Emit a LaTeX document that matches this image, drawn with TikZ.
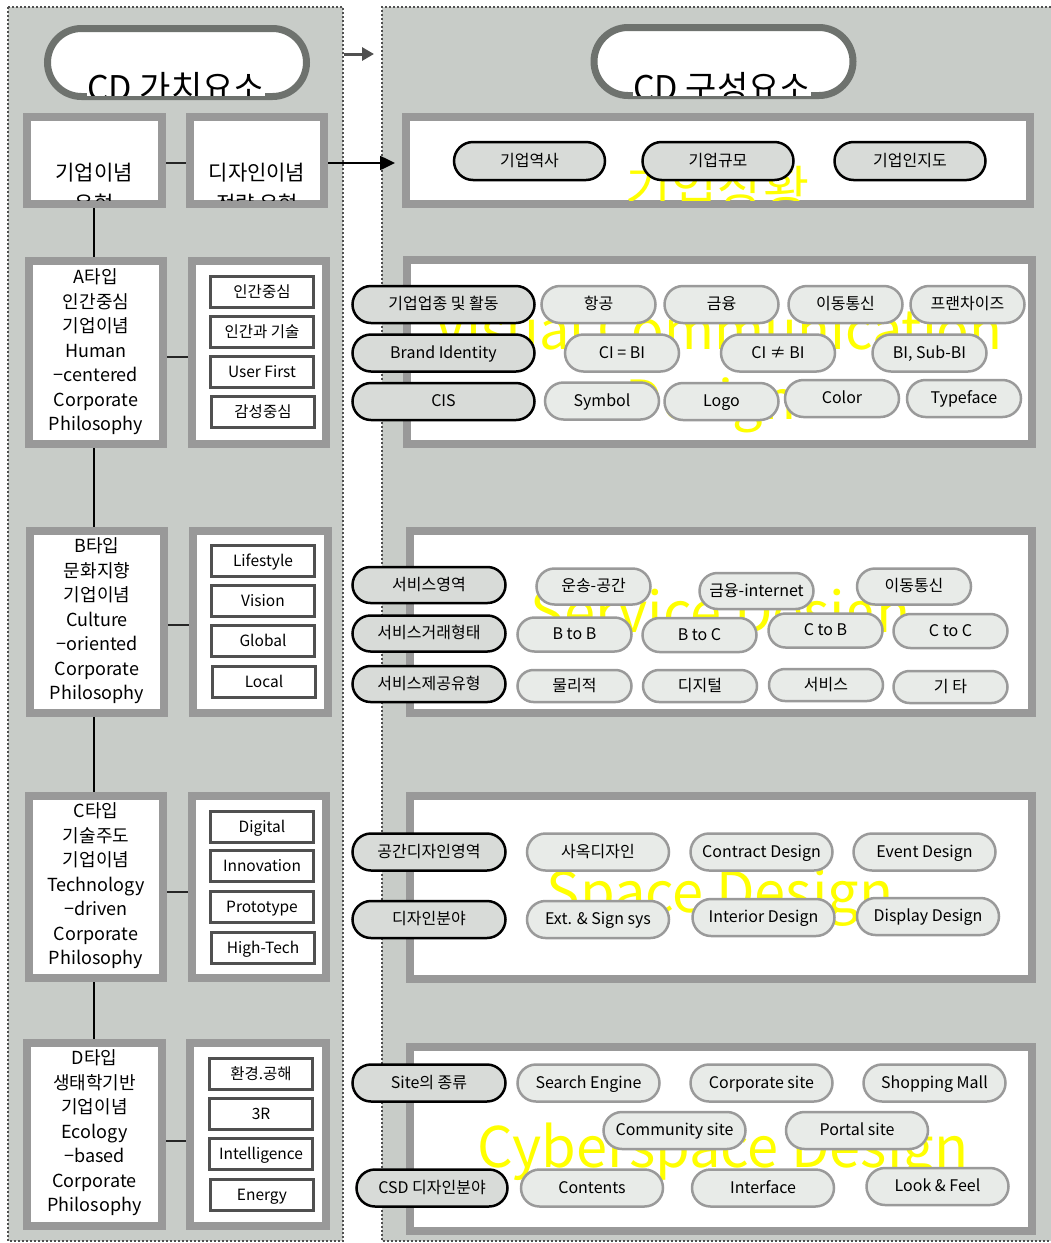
\documentclass[tikz,border=0pt]{standalone}
\usepackage{fontspec}
\setmainfont{Noto Sans CJK KR}
\usetikzlibrary{arrows.meta,shapes.misc}
\definecolor{panelbg}{HTML}{C8CCC8}
\definecolor{framegray}{HTML}{999999}
\definecolor{hdrc}{HTML}{6E726E}
\definecolor{catfill}{HTML}{D8DBD8}
\definecolor{itemfill}{HTML}{E8EBE8}
\definecolor{itemc}{HTML}{9A9A9A}
\definecolor{sboxc}{HTML}{505050}
\definecolor{dotc}{HTML}{505050}
\definecolor{ylw}{HTML}{FFFF00}
\newcommand\myfs[2]{\fontsize{#1pt}{#2pt}\selectfont}
\begin{document}
\begin{tikzpicture}[x=1pt,y=-1pt,
 dotline/.style={draw=dotc,line width=2pt,dash pattern=on 2pt off 2pt},
 frame/.style={draw=framegray,line width=8pt,fill=white,inner sep=0pt},
 hdrpill/.style={rounded rectangle,draw=hdrc,line width=7pt,fill=white,minimum width=259pt,minimum height=68pt,inner sep=0pt},
 hdrtext/.style={anchor=base,inner sep=0pt,fill=white,font=\myfs{34}{40}},
 pilltext/.style={inner sep=0pt,font=\myfs{16}{19},text height=12.5pt,text depth=2.5pt},
 catpill/.style={rounded rectangle,draw=black,line width=2.5pt,fill=catfill,pilltext},
 itempill/.style={rounded rectangle,draw=itemc,line width=2.5pt,fill=itemfill,pilltext},
 sbox/.style={draw=sboxc,line width=3pt,fill=white,minimum width=103pt,minimum height=31pt,pilltext,font=\myfs{15.5}{19}},
 ltext/.style={align=center,inner sep=0pt,font=\myfs{18}{24.5}},
 htext/.style={anchor=base,inner sep=0pt,font=\myfs{21}{26}},
 ylwtext/.style={anchor=base,inner sep=0pt,text=ylw,font=\myfs{56}{60}},
 conn/.style={draw=black!85,line width=2.5pt},
]
\useasboundingbox (0,0) rectangle (1051,1243);
% panels
\fill[panelbg] (8,7) rectangle (343,1241);
\draw[dotline] (8,7) rectangle (343,1241);
\fill[panelbg] (382,7) rectangle (1051,1241);
\draw[dotline] (1051,7) -- (382,7) -- (382,1241) -- (1051,1241);
% header arrow
\coordinate (ga1) at (344,54);
\coordinate (ga2) at (374,54);
\draw[draw=dotc,line width=3pt,-{Triangle[length=12pt,width=13pt]}] (ga1) -- (ga2);
% headers
\node[hdrpill] (hdrL) at (177,62.5) {};
\node[hdrpill] (hdrR) at (723.5,61.5) {};
\begin{scope}
\clip (0,0) rectangle (1051,95.5);
\node[hdrtext] (hdrLt) at (176,100) {CD 가치요소};
\node[hdrtext] (hdrRt) at (722,100) {CD 구성요소};
\end{scope}
% left top boxes
\node[frame,minimum width=135pt,minimum height=87pt] (b1) at (94.5,160.5) {};
\node[frame,minimum width=134pt,minimum height=87pt] (b2) at (257,160.5) {};
\begin{scope}
\clip ([shift={(8,8)}]b1.north west) rectangle ([shift={(-8,-8)}]b1.south east);
\node[htext] (b1a) at (94,180) {기업이념};
\node[htext] (b1b) at (94,211) {유형};
\end{scope}
\begin{scope}
\clip ([shift={(8,8)}]b2.north west) rectangle ([shift={(-8,-8)}]b2.south east);
\node[htext] (b2a) at (257,180) {디자인이념};
\node[htext] (b2b) at (257,211) {전략 유형};
\end{scope}
\coordinate (arrEnd) at (395,163);
\draw[conn] ([yshift=-2.5pt]b1.east) -- ([yshift=-2.5pt]b2.west);
\draw[draw=black,line width=2.5pt,-{Triangle[length=15pt,width=14pt]}] ([yshift=-2.5pt]b2.east) -- (arrEnd);
% left column boxes
\coordinate (vx) at (94,0);
\node[frame,minimum width=134pt,minimum height=183pt] (aL) at (96,352.5) {};
\node[frame,minimum width=134pt,minimum height=183pt] (aR) at (259,352.5) {};
\node[frame,minimum width=134pt,minimum height=182pt] (bL) at (97,622) {};
\node[frame,minimum width=135pt,minimum height=182pt] (bR) at (260.5,622) {};
\node[frame,minimum width=134pt,minimum height=182pt] (cL) at (96,887) {};
\node[frame,minimum width=134pt,minimum height=182pt] (cR) at (259,887) {};
\node[frame,minimum width=135pt,minimum height=183pt] (dL) at (94.5,1134.5) {};
\node[frame,minimum width=136pt,minimum height=183pt] (dR) at (258,1134.5) {};
\draw[draw=black,line width=2.5pt] (b1.south -| vx) -- (aL.north -| vx);
\draw[draw=black,line width=2.5pt] (aL.south -| vx) -- (bL.north -| vx);
\draw[draw=black,line width=2.5pt] (bL.south -| vx) -- (cL.north -| vx);
\draw[draw=black,line width=2.5pt] (cL.south -| vx) -- (dL.north -| vx);
\draw[conn] ([yshift=-4.5pt]aL.east) -- ([yshift=-4.5pt]aR.west);
\draw[conn] ([yshift=-3pt]bL.east) -- ([yshift=-3pt]bR.west);
\draw[conn] ([yshift=-5pt]cL.east) -- ([yshift=-5pt]cR.west);
\draw[conn] ([yshift=-6.5pt]dL.east) -- ([yshift=-6.5pt]dR.west);
\node[ltext] (aLt) at (96,352) {A타입\\인간중심\\기업이념\\Human\\−centered\\Corporate\\Philosophy};
\node[ltext] (bLt) at (97,621) {B타입\\문화지향\\기업이념\\Culture\\−oriented\\Corporate\\Philosophy};
\node[ltext] (cLt) at (96,886) {C타입\\기술주도\\기업이념\\Technology\\−driven\\Corporate\\Philosophy};
\node[ltext] (dLt) at (94.5,1133) {D타입\\생태학기반\\기업이념\\Ecology\\−based\\Corporate\\Philosophy};
% small boxes
\node[sbox] (a1) at (262,292) {인간중심};
\node[sbox] (a2) at (262,332) {인간과 기술};
\node[sbox] (a3) at (262,372) {User First};
\node[sbox] (a4) at (263,412) {감성중심};
\node[sbox] (bb1) at (263,561) {Lifestyle};
\node[sbox] (bb2) at (263,601) {Vision};
\node[sbox] (bb3) at (263,641) {Global};
\node[sbox] (bb4) at (264,682) {Local};
\node[sbox] (cc1) at (262,827) {Digital};
\node[sbox] (cc2) at (262,866) {Innovation};
\node[sbox] (cc3) at (262,907) {Prototype};
\node[sbox] (cc4) at (263,948) {High-Tech};
\node[sbox] (dd1) at (261,1074) {환경.공해};
\node[sbox] (dd2) at (261,1114) {3R};
\node[sbox] (dd3) at (261,1154) {Intelligence};
\node[sbox] (dd4) at (262,1195) {Energy};
% right frames
\node[frame,minimum width=624pt,minimum height=87pt] (fT) at (718,160.5) {};
\node[frame,minimum width=625pt,minimum height=184pt] (fV) at (719.5,352) {};
\node[frame,minimum width=622pt,minimum height=182pt] (fS) at (721,622) {};
\node[frame,minimum width=622pt,minimum height=183pt] (fP) at (721,887.5) {};
\node[frame,minimum width=622pt,minimum height=184pt] (fC) at (721,1139) {};
\begin{scope}
\clip ([shift={(8,8)}]fT.north west) rectangle ([shift={(-8,-8)}]fT.south east);
\node[ylwtext,font=\myfs{50}{56}] (yT) at (717,207) {기업상황};
\end{scope}
\begin{scope}
\clip ([shift={(8,8)}]fV.north west) rectangle ([shift={(-8,-8)}]fV.south east);
\node[ylwtext,font=\myfs{54}{60}] (yV1) at (719,349) {Visual Communication};
\node[ylwtext,font=\myfs{54}{60}] (yV2) at (711,419) {Design};
\end{scope}
\begin{scope}
\clip ([shift={(8,8)}]fS.north west) rectangle ([shift={(-8,-8)}]fS.south east);
\node[ylwtext] (yS) at (721,632) {Service Design};
\end{scope}
\begin{scope}
\clip ([shift={(8,8)}]fP.north west) rectangle ([shift={(-8,-8)}]fP.south east);
\node[ylwtext] (yP) at (720,912) {Space Design};
\end{scope}
\begin{scope}
\clip ([shift={(8,8)}]fC.north west) rectangle ([shift={(-8,-8)}]fC.south east);
\node[ylwtext] (yC) at (723,1167) {Cyberspace Design};
\end{scope}
% top pills
\node[catpill,minimum width=151pt,minimum height=38pt] (t1) at (529.5,161) {기업역사};
\node[catpill,minimum width=151pt,minimum height=38pt] (t2) at (718,161) {기업규모};
\node[catpill,minimum width=151pt,minimum height=38pt] (t3) at (910,161) {기업인지도};
% visual
\node[catpill,minimum width=182pt,minimum height=37pt] (v1) at (443.5,304.5) {기업업종 및 활동};
\node[catpill,minimum width=182pt,minimum height=37pt] (v2) at (443.5,353) {Brand Identity};
\node[catpill,minimum width=182pt,minimum height=37pt] (v3) at (443.5,401.5) {CIS};
\node[itempill,minimum width=114pt,minimum height=37pt] (vi1) at (598.5,304.5) {항공};
\node[itempill,minimum width=114pt,minimum height=37pt] (vi2) at (721.5,304.5) {금융};
\node[itempill,minimum width=114pt,minimum height=37pt] (vi3) at (845.5,304.5) {이동통신};
\node[itempill,minimum width=114pt,minimum height=37pt] (vi4) at (967.5,304.5) {프랜차이즈};
\node[itempill,minimum width=114pt,minimum height=37pt] (vi5) at (622,353) {CI = BI};
\node[itempill,minimum width=114pt,minimum height=37pt] (vi6) at (778,353) {CI ≠ BI};
\node[itempill,minimum width=114pt,minimum height=37pt] (vi7) at (929.5,353) {BI, Sub-BI};
\node[itempill,minimum width=114pt,minimum height=37pt] (vi8) at (602,401) {Symbol};
\node[itempill,minimum width=114pt,minimum height=37pt] (vi9) at (721.5,401.5) {Logo};
\node[itempill,minimum width=114pt,minimum height=37pt] (vi10) at (842,398.5) {Color};
\node[itempill,minimum width=114pt,minimum height=37pt] (vi11) at (964,398.5) {Typeface};
% service
\node[catpill,minimum width=153pt,minimum height=36pt] (s1) at (429,585) {서비스영역};
\node[catpill,minimum width=153pt,minimum height=36pt] (s2) at (429,633.5) {서비스거래형태};
\node[catpill,minimum width=153pt,minimum height=36pt] (s3) at (429,684) {서비스제공유형};
\node[itempill,minimum width=114pt,minimum height=36pt] (si1) at (593.5,586.5) {운송-공간};
\node[itempill,minimum width=114pt,minimum height=36pt] (si2) at (756.5,591) {금융-internet};
\node[itempill,minimum width=114pt,minimum height=36pt] (si3) at (914,586.5) {이동통신};
\node[itempill,minimum width=114pt,minimum height=34pt] (si4) at (574.5,634.5) {B to B};
\node[itempill,minimum width=114pt,minimum height=34pt] (si5) at (699.5,635) {B to C};
\node[itempill,minimum width=114pt,minimum height=34pt] (si6) at (825.5,630.5) {C to B};
\node[itempill,minimum width=114pt,minimum height=34pt] (si7) at (950.5,631) {C to C};
\node[itempill,minimum width=114pt,minimum height=32pt] (si8) at (574.5,686) {물리적};
\node[itempill,minimum width=114pt,minimum height=32pt] (si9) at (700,686) {디지털};
\node[itempill,minimum width=114pt,minimum height=32pt] (si10) at (826,685) {서비스};
\node[itempill,minimum width=114pt,minimum height=32pt] (si11) at (950.5,687) {기 타};
% space
\node[catpill,minimum width=153pt,minimum height=37pt] (p1) at (429,852) {공간디자인영역};
\node[catpill,minimum width=153pt,minimum height=37pt] (p2) at (429,919.5) {디자인분야};
\node[itempill,minimum width=142pt,minimum height=37pt] (pi1) at (598,852) {사옥디자인};
\node[itempill,minimum width=142pt,minimum height=37pt] (pi2) at (761.5,852) {Contract Design};
\node[itempill,minimum width=142pt,minimum height=37pt] (pi3) at (924.5,852) {Event Design};
\node[itempill,minimum width=142pt,minimum height=37pt] (pi4) at (598,919.5) {Ext. \& Sign sys};
\node[itempill,minimum width=142pt,minimum height=37pt] (pi5) at (763.5,917.5) {Interior Design};
\node[itempill,minimum width=142pt,minimum height=37pt] (pi6) at (928,916.5) {Display Design};
% cyber
\node[catpill,minimum width=153pt,minimum height=37pt] (c1) at (429,1083) {Site의 종류};
\node[catpill,minimum width=151pt,minimum height=37pt] (c2) at (432,1188) {CSD 디자인분야};
\node[itempill,minimum width=142pt,minimum height=37pt] (ci1) at (588.5,1083) {Search Engine};
\node[itempill,minimum width=142pt,minimum height=37pt] (ci2) at (761.5,1083) {Corporate site};
\node[itempill,minimum width=142pt,minimum height=37pt] (ci3) at (934.5,1083) {Shopping Mall};
\node[itempill,minimum width=142pt,minimum height=37pt] (ci4) at (674.5,1130.5) {Community site};
\node[itempill,minimum width=142pt,minimum height=37pt] (ci5) at (857,1130.5) {Portal site};
\node[itempill,minimum width=142pt,minimum height=37pt] (ci6) at (592,1188) {Contents};
\node[itempill,minimum width=142pt,minimum height=37pt] (ci7) at (763,1188) {Interface};
\node[itempill,minimum width=142pt,minimum height=37pt] (ci8) at (937.5,1186.5) {Look \& Feel};
\end{tikzpicture}
\end{document}
